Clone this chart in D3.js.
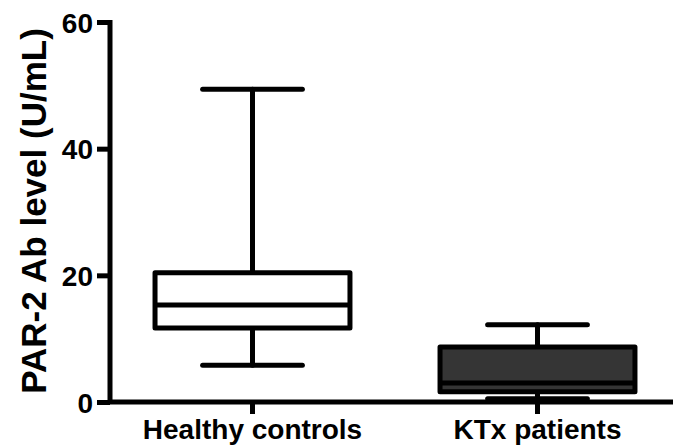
<!DOCTYPE html>
<html><head><meta charset="utf-8">
<script src="https://cdn.jsdelivr.net/npm/d3@7"></script>
<style>body{margin:0;background:#fff}svg{display:block}</style>
</head><body>
<script>
const categories = ["Healthy controls", "KTx patients"];
const whiskerLow  = [5.8, 0.5];
const q1          = [11.7, 1.6];
const medians     = [15.3, 3.0];
const q3          = [20.4, 8.7];
const whiskerHigh = [49.4, 12.2];
const boxFills    = ["#ffffff", "#353535"];
const yTicks = [0, 20, 40, 60];
const yTitle = "PAR-2 Ab level (U/mL)";

const W = 673, H = 445;
const svg = d3.select("body").append("svg").attr("width", W).attr("height", H);

const y = d3.scaleLinear().domain([0, 60]).range([402, 22]);
const x = d3.scaleBand().domain(categories).range([110, 680]).padding(0);
const bw = x.bandwidth();
const boxW = bw * 0.684, capW = bw * 0.35;
const SW = 5;
const font = "'Liberation Sans', Arial, sans-serif";

const data = categories.map((c, i) => ({c, lo: whiskerLow[i], q1: q1[i], med: medians[i], q3: q3[i], hi: whiskerHigh[i], fill: boxFills[i]}));

const g = svg.append("g");
data.forEach(d => {
  const cx = x(d.c) + bw / 2;
  const gg = g.append("g").attr("stroke", "#000").attr("stroke-width", SW).attr("stroke-linecap", "round").attr("stroke-linejoin", "round");
  gg.append("line").attr("x1", cx).attr("x2", cx).attr("y1", y(d.hi)).attr("y2", y(d.q3));
  gg.append("line").attr("x1", cx).attr("x2", cx).attr("y1", y(d.q1)).attr("y2", y(d.lo));
  gg.append("line").attr("x1", cx - capW/2).attr("x2", cx + capW/2).attr("y1", y(d.hi)).attr("y2", y(d.hi));
  gg.append("line").attr("x1", cx - capW/2).attr("x2", cx + capW/2).attr("y1", y(d.lo)).attr("y2", y(d.lo));
  gg.append("rect").attr("x", cx - boxW/2).attr("y", y(d.q3)).attr("width", boxW).attr("height", y(d.q1) - y(d.q3)).attr("fill", d.fill);
  gg.append("line").attr("x1", cx - boxW/2).attr("x2", cx + boxW/2).attr("y1", y(d.med)).attr("y2", y(d.med)).attr("stroke-linecap", "butt");
});

const yAxis = d3.axisLeft(y).tickValues(yTicks).tickSize(13).tickPadding(4).tickFormat(d3.format("d"));
const ya = svg.append("g").attr("transform", "translate(110,0)").call(yAxis);
ya.select(".domain").attr("stroke-width", SW).attr("d", `M0,${y(60)-2}V${y(0)}`);
ya.selectAll(".tick line").attr("stroke-width", SW);
ya.selectAll(".tick text").attr("font-family", font).attr("font-size", 28).attr("font-weight", "bold").attr("fill", "#000").attr("dy", "0.36em");

const xAxis = d3.axisBottom(x).tickSize(12).tickPadding(4);
const xa = svg.append("g").attr("transform", "translate(0,402)").call(xAxis);
xa.select(".domain").attr("stroke-width", SW).attr("d", `M108,0H${W+5}`);
xa.selectAll(".tick line").attr("stroke-width", SW);
xa.selectAll(".tick text").attr("font-family", font).attr("font-size", 28).attr("font-weight", "bold").attr("fill", "#000").attr("dy", null).attr("y", 37);

svg.append("text").attr("transform", "translate(46,211) rotate(-90)").attr("text-anchor", "middle")
  .attr("font-family", font).attr("font-size", 35).attr("font-weight", "bold").attr("fill", "#000").text(yTitle);
</script>
</body></html>
